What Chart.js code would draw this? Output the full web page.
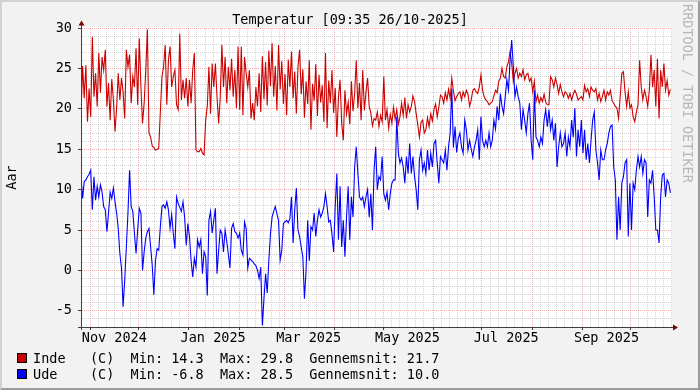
<!DOCTYPE html>
<html>
<head>
<meta charset="utf-8">
<title>Temperatur</title>
<script src="https://cdn.jsdelivr.net/npm/chart.js@4.4.1/dist/chart.umd.min.js"></script>
<style>
html,body{margin:0;padding:0;background:#f2f2f2;}
#wrap{position:relative;width:700px;height:390px;background:#f2f2f2;overflow:hidden;font-family:"DejaVu Sans Mono",monospace;font-size:13.5px;color:#000;}
#c{position:absolute;left:0;top:0;}
.t{position:absolute;white-space:pre;line-height:16px;}
#title{left:0;width:700px;text-align:center;top:11px;}
.sw{position:absolute;left:17px;width:10px;height:10px;box-sizing:border-box;border:1px solid #000;}
#wm{left:696px;top:4px;color:#b8b8b8;transform:rotate(90deg);transform-origin:0 0;}
#frame{position:absolute;left:0;top:0;width:700px;height:390px;box-sizing:border-box;border-top:2px solid #d2d2d2;border-left:2px solid #d2d2d2;border-right:2px solid #9c9c9c;border-bottom:2px solid #9c9c9c;pointer-events:none;}
</style>
</head>
<body>
<div id="wrap">
  <canvas id="c" width="700" height="390"></canvas>
  <div class="t" id="title">Temperatur [09:35 26/10-2025]</div>
  <div class="t" id="wm">RRDTOOL / TOBI OETIKER</div>
  <div class="sw" style="top:353px;background:#cc0000"></div>
  <div class="t" style="left:33px;top:350px">Inde   (C)  Min: 14.3  Max: 29.8  Gennemsnit: 21.7</div>
  <div class="sw" style="top:369px;background:#0000ff"></div>
  <div class="t" style="left:33px;top:366px">Ude    (C)  Min: -6.8  Max: 28.5  Gennemsnit: 10.0</div>
  <div id="frame"></div>
</div>
<script>
// ---- data: one value per day, starting 26/10-2024 09:35 ----
const indeVals = [
19.2,25.3,21.3,25.4,18.4,22.5,19.0,28.9,21.5,24.4,
20.3,26.9,22.0,26.4,24.8,27.3,20.3,23.2,18.6,23.7,
21.1,17.2,20.1,24.4,21.1,23.8,22.1,18.8,27.3,25.2,
26.7,20.7,24.0,22.7,27.5,20.5,28.7,22.7,18.2,20.7,
24.8,29.8,17.0,16.5,15.4,15.2,14.9,15.0,15.1,19.6,
24.0,25.2,27.9,20.5,26.0,27.7,22.7,24.0,24.8,20.5,
19.9,29.3,21.1,23.6,21.3,23.8,20.3,23.6,20.7,24.8,
26.9,14.9,14.7,14.7,15.1,14.5,14.3,18.6,20.3,25.2,
19.4,25.6,22.7,25.6,21.5,18.2,21.5,27.9,22.7,26.4,
20.7,25.2,22.3,26.2,21.5,24.8,20.1,27.7,19.9,27.7,
19.2,26.4,24.4,22.7,24.8,18.8,20.7,18.6,22.7,20.3,
24.4,19.6,26.5,21.2,25.8,20.4,27.2,22.8,28.1,21.5,
25.3,19.8,27.9,22.4,25.9,20.6,24.3,19.2,26.1,22.7,
27.1,21.3,24.6,19.4,25.2,27.3,21.8,24.9,18.9,23.4,
20.6,26.0,17.4,23.1,21.0,25.5,19.1,24.2,20.8,22.9,
18.4,26.9,17.6,23.5,20.7,24.8,19.5,22.6,16.5,21.4,
23.6,18.2,16.1,22.3,19.4,20.8,18.1,23.4,19.7,21.9,
26.0,20.1,23.2,18.6,24.8,19.8,22.1,23.8,20.3,19.5,
17.9,18.8,18.6,19.6,17.8,19.2,18.4,24.0,18.6,19.9,
17.6,19.3,18.2,20.2,18.7,19.9,18.1,19.0,20.7,19.2,
21.4,18.8,20.5,19.6,20.3,21.6,20.9,19.4,18.0,16.5,
18.3,18.6,17.0,17.4,18.9,17.8,19.4,18.5,19.9,20.6,
19.0,20.2,21.7,21.5,20.7,22.0,21.1,22.4,21.3,23.8,
22.2,21.0,21.5,21.9,22.1,21.1,22.1,21.5,22.3,21.8,
20.3,21.1,22.3,22.5,22.1,21.9,22.7,24.2,22.3,21.5,
21.1,20.9,20.5,20.7,20.9,21.6,22.3,22.0,23.4,23.8,
25.0,24.0,23.8,25.2,25.8,27.1,25.6,23.4,24.4,25.0,
23.8,24.4,24.0,24.8,23.6,24.2,24.4,23.4,23.8,22.1,
23.4,20.9,21.7,20.7,21.4,20.9,21.8,20.8,20.5,20.5,
24.0,23.6,22.7,23.8,23.0,21.9,23.0,22.1,21.5,22.1,
21.9,21.3,21.9,21.1,21.8,22.3,21.8,21.1,21.3,21.5,
21.1,22.9,22.1,22.5,21.5,22.7,22.3,22.1,22.5,21.1,
21.9,20.9,21.5,22.3,21.1,22.1,21.7,22.3,21.0,20.7,
20.3,20.1,18.8,21.5,24.4,24.6,22.1,20.3,22.1,20.1,
20.5,19.0,18.4,19.6,20.5,26.0,22.7,21.1,22.3,21.5,
20.3,22.3,26.7,22.7,24.8,20.3,26.2,18.8,24.8,22.7,
25.6,22.3,23.5,21.7,22.4
];
const udeVals = [
11.6,8.9,11.0,11.2,11.6,11.9,12.4,7.5,11.6,8.7,
10.4,9.1,10.6,9.7,7.9,7.5,4.8,7.1,9.7,8.9,
10.2,8.5,7.1,5.2,2.1,0.3,-4.5,-1.2,2.9,7.1,
12.4,7.9,7.3,4.6,2.1,5.0,7.7,7.1,0.0,2.3,
4.0,4.8,5.2,2.9,0.6,-3.0,1.2,2.7,2.5,5.4,
7.9,8.1,7.7,8.5,7.5,5.2,6.9,4.6,2.7,9.1,
8.3,7.8,7.3,8.5,6.6,3.1,5.8,4.2,1.2,-0.8,
1.5,0.4,3.8,2.9,3.8,-0.4,2.3,1.7,-3.1,6.2,
7.3,4.6,6.2,7.7,-0.4,2.5,5.0,4.6,2.3,5.0,
3.6,2.0,0.3,5.2,5.8,4.8,4.6,4.0,4.6,2.5,
1.9,6.0,5.2,0.3,1.5,1.3,1.1,0.8,0.6,0.0,
-1.0,0.4,-6.8,-3.5,-0.4,-2.8,1.2,4.5,6.6,7.3,
7.9,7.0,6.2,1.3,2.5,5.8,6.0,6.2,5.9,6.4,
9.1,3.4,7.5,10.2,5.0,4.2,2.9,1.7,-3.5,0.0,
6.2,1.2,5.4,5.0,7.1,4.2,6.2,7.5,6.6,7.1,
7.9,9.5,7.9,6.0,6.2,4.5,2.3,7.9,12.0,3.8,
10.4,2.9,6.2,1.7,6.6,10.4,3.8,9.1,6.6,12.8,
15.3,12.0,9.1,8.7,9.1,7.9,9.1,10.0,6.6,9.5,
5.0,12.4,15.3,10.0,11.6,11.2,14.1,9.5,8.7,9.7,
7.5,9.5,10.8,11.2,11.2,19.0,14.5,13.3,13.9,12.8,
10.8,14.1,12.0,15.7,12.0,14.1,11.6,10.0,7.5,13.7,
14.9,12.4,13.3,12.0,14.9,12.4,14.5,12.8,15.7,16.1,
13.3,10.8,14.1,13.7,13.3,14.9,12.4,15.3,17.0,22.5,
15.2,17.8,14.6,16.3,17.0,15.3,14.5,18.6,17.4,14.9,
16.1,15.0,14.1,15.3,16.1,17.4,13.7,19.0,16.1,15.3,
16.1,15.3,17.0,15.3,16.1,18.6,17.5,20.3,18.6,21.9,
20.3,19.4,21.5,23.6,22.3,26.0,28.5,25.2,21.5,22.7,
21.5,20.7,17.4,19.9,18.6,17.0,19.4,20.7,16.1,13.7,
22.3,16.5,16.1,15.3,16.5,15.7,18.6,19.9,17.8,19.9,
17.4,18.6,16.1,18.2,12.8,15.3,17.0,15.3,15.7,17.0,
14.1,16.5,15.3,18.6,16.5,20.1,14.1,17.4,15.3,18.6,
14.5,17.4,13.7,15.7,13.3,16.1,18.6,19.6,14.9,13.3,
11.2,14.9,13.7,13.7,14.9,15.7,17.0,17.8,18.0,12.8,
11.2,3.8,9.1,5.0,10.8,11.6,13.3,13.7,4.2,10.8,
5.0,10.8,10.0,12.4,14.1,12.8,14.1,12.0,13.7,13.3,
6.6,11.2,10.8,12.4,9.1,5.0,5.0,3.4,9.1,11.8,
12.0,9.1,11.2,10.8,9.6
];
const seriesNames = ['Inde', 'Ude'];
const seriesColors = ['#cc0000', '#0000ff'];

// ---- axis ticks ----
const startMs = Date.UTC(2024, 9, 26, 9, 35);
const spanDays = 365;
const monthDates = ['2024-11-01','2024-12-01','2025-01-01','2025-02-01','2025-03-01','2025-04-01',
                    '2025-05-01','2025-06-01','2025-07-01','2025-08-01','2025-09-01','2025-10-01'];
const minorMonths = ['2024-11','2024-12','2025-01','2025-02','2025-03','2025-04','2025-05',
                     '2025-06','2025-07','2025-08','2025-09','2025-10'];
const minorDaysOfMonth = ['06','11','16','21','26'];
const xLabelTexts = ['Nov 2024','Jan 2025','Mar 2025','May 2025','Jul 2025','Sep 2025'];
const xLabelDates = ['2024-11-16','2025-01-16','2025-03-16','2025-05-16','2025-07-16','2025-09-16'];
const yMin = -7, yMax = 30;
const yLabelTicks = [-5, 0, 5, 10, 15, 20, 25, 30];

const toDay = s => (Date.parse(s + 'T00:00:00Z') - startMs) / 864e5;

let xTickDefs = [];
monthDates.forEach(d => xTickDefs.push({value: toDay(d), kind: 'major', label: ''}));
minorMonths.forEach(m => minorDaysOfMonth.forEach(dd => {
  const v = toDay(m + '-' + dd);
  if (v > 0 && v < spanDays) xTickDefs.push({value: v, kind: 'minor', label: ''});
}));
xLabelDates.forEach((d, i) => xTickDefs.push({value: toDay(d), kind: 'label', label: xLabelTexts[i]}));
xTickDefs.sort((a, b) => a.value - b.value);

const yTickVals = [];
for (let v = yMin; v <= yMax; v++) yTickVals.push(v);

const MAJOR = 'rgba(222,79,79,0.45)';
const MINOR = 'rgba(140,140,140,0.38)';
const AXIS = '#404040';
const FONT = {family: 'DejaVu Sans Mono', size: 13.5};

const plotBg = {
  id: 'plotBg',
  beforeDraw(chart) {
    const {ctx, chartArea: a} = chart;
    ctx.save();
    ctx.fillStyle = '#ffffff';
    ctx.fillRect(a.left, a.top - 1, a.right - a.left, a.bottom - a.top + 1);
    ctx.restore();
  }
};
const arrows = {
  id: 'arrows',
  afterDraw(chart) {
    const {ctx, chartArea: a} = chart;
    const xb = Math.round(a.bottom) + 0.5, xl = Math.round(a.left) + 0.5;
    ctx.save();
    ctx.strokeStyle = AXIS; ctx.lineWidth = 1;
    ctx.beginPath();
    ctx.moveTo(a.left - 3, xb); ctx.lineTo(a.right + 3, xb);
    ctx.moveTo(xl, a.bottom + 3); ctx.lineTo(xl, a.top - 4);
    ctx.stroke();
    ctx.fillStyle = '#800000';
    ctx.beginPath();
    ctx.moveTo(a.right + 1, xb - 3); ctx.lineTo(a.right + 6, xb); ctx.lineTo(a.right + 1, xb + 3);
    ctx.closePath(); ctx.fill();
    ctx.beginPath();
    ctx.moveTo(xl - 3, a.top - 2.5); ctx.lineTo(xl, a.top - 7.5); ctx.lineTo(xl + 3, a.top - 2.5);
    ctx.closePath(); ctx.fill();
    ctx.restore();
  }
};

Chart.defaults.font.family = FONT.family;
Chart.defaults.font.size = FONT.size;
Chart.defaults.color = '#000';

new Chart(document.getElementById('c'), {
  type: 'line',
  data: {
    datasets: [
      {label: seriesNames[1], data: udeVals.map((v, i) => ({x: i, y: v})),
       borderColor: seriesColors[1], borderWidth: 1.1, pointRadius: 0, tension: 0, fill: false},
      {label: seriesNames[0], data: indeVals.map((v, i) => ({x: i, y: v})),
       borderColor: seriesColors[0], borderWidth: 1.1, pointRadius: 0, tension: 0, fill: false}
    ]
  },
  options: {
    responsive: false, animation: false, devicePixelRatio: 1,
    layout: {padding: {left: 0, right: 28, top: 28, bottom: 0}},
    plugins: {legend: {display: false}, title: {display: false}, tooltip: {enabled: false}},
    scales: {
      x: {
        type: 'linear', min: 0, max: spanDays,
        afterBuildTicks(s) { s.ticks = xTickDefs.map(t => ({value: t.value})); },
        afterFit(s) { s.height = 63; },
        ticks: {autoSkip: false, maxRotation: 0, minRotation: 0, padding: 0, color: '#000', font: FONT,
                callback: (v, i) => (xTickDefs[i] ? xTickDefs[i].label : '')},
        grid: {
          lineWidth: 1, drawTicks: true, tickLength: 3, tickWidth: 1,
          color: c => { const t = xTickDefs[c.index]; return !t ? 'rgba(0,0,0,0)' : t.kind === 'major' ? MAJOR : t.kind === 'minor' ? MINOR : 'rgba(0,0,0,0)'; },
          tickColor: c => { const t = xTickDefs[c.index]; return t && t.kind === 'major' ? AXIS : 'rgba(0,0,0,0)'; },
          borderDash: [1, 1]
        },
        border: {display: true, color: AXIS, width: 1, dash: [1, 1]}
      },
      y: {
        min: yMin, max: yMax,
        afterBuildTicks(s) { s.ticks = yTickVals.map(v => ({value: v})); },
        afterFit(s) { s.width = 81; },
        ticks: {autoSkip: false, padding: 6, color: '#000', font: FONT,
                callback: v => (yLabelTicks.includes(v) ? String(v) : '')},
        grid: {
          lineWidth: 1, drawTicks: true, tickLength: 3, tickWidth: 1,
          color: c => (c.tick && yLabelTicks.includes(c.tick.value) ? MAJOR : MINOR),
          tickColor: c => (c.tick && yLabelTicks.includes(c.tick.value) ? AXIS : 'rgba(0,0,0,0)'),
          borderDash: [1, 1]
        },
        border: {display: true, color: AXIS, width: 1, dash: [1, 1]},
        title: {display: true, text: 'Aar', color: '#000', font: FONT, padding: {top: 4, bottom: 0}}
      }
    }
  },
  plugins: [plotBg, arrows]
});
</script>
</body>
</html>
